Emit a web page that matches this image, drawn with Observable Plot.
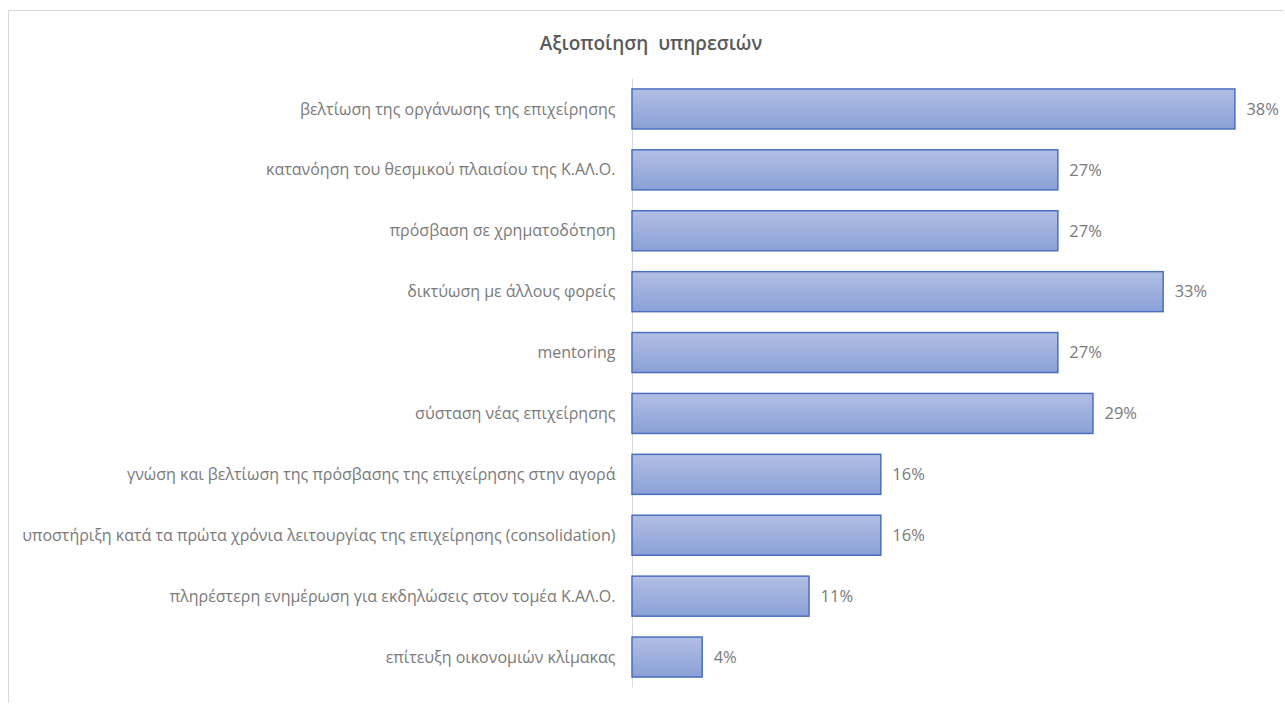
<!DOCTYPE html>
<html>
<head>
<meta charset="utf-8">
<script src="https://cdn.jsdelivr.net/npm/d3@7"></script>
<script src="https://cdn.jsdelivr.net/npm/@observablehq/plot@0.6"></script>
<style>
  body { margin: 0; background: #fff; font-family: "Open Sans", "Noto Sans", sans-serif; }
  #frame { position: absolute; left: 8px; top: 10px; width: 1276px; height: 693px; border: 1px solid #d9d9d9; border-right: none; border-bottom: none; box-sizing: border-box; }
  #title { position: absolute; left: 0; width: 1302px; top: 30px; text-align: center; font-size: 19px; color: #595959; font-weight: 600; }
  #chart { position: absolute; left: 0; top: 0; }
</style>
</head>
<body>
<div id="frame"></div>
<div id="title">Αξιοποίηση&nbsp; υπηρεσιών</div>
<div id="chart"></div>
<script>
const categories = [
  "βελτίωση της οργάνωσης της επιχείρησης",
  "κατανόηση του θεσμικού πλαισίου της Κ.ΑΛ.Ο.",
  "πρόσβαση σε χρηματοδότηση",
  "δικτύωση με άλλους φορείς",
  "mentoring",
  "σύσταση νέας επιχείρησης",
  "γνώση και βελτίωση της πρόσβασης της επιχείρησης στην αγορά",
  "υποστήριξη κατά τα πρώτα χρόνια λειτουργίας της επιχείρησης (consolidation)",
  "πληρέστερη ενημέρωση για εκδηλώσεις στον τομέα Κ.ΑΛ.Ο.",
  "επίτευξη οικονομιών κλίμακας"
];
const values = [37.8, 26.7, 26.7, 33.3, 26.7, 28.9, 15.6, 15.6, 11.1, 4.4];
const labels = ["38%", "27%", "27%", "33%", "27%", "29%", "16%", "16%", "11%", "4%"];

const data = categories.map((c, i) => ({ category: c, value: values[i], label: labels[i] }));

const chart = Plot.plot({
  width: 1285,
  height: 704,
  marginLeft: 632,
  marginRight: 15,
  marginTop: 78.6,
  marginBottom: 16.6,
  style: { fontFamily: "'Open Sans', 'Noto Sans', sans-serif", fontSize: "16px", color: "#7a7a7a", background: "transparent" },
  x: { domain: [0, 40], axis: null },
  y: { domain: categories, paddingInner: 0.343, paddingOuter: 0.17, round: false, label: null, tickSize: 0, tickPadding: 17 },
  marks: [
    Plot.ruleX([0], { stroke: "#d9d9d9", strokeWidth: 1 }),
    Plot.barX(data, { x: "value", y: "category", fill: "url(#barGrad)", stroke: "#4a6fc0", strokeWidth: 1.5 }),
    Plot.text(data, { x: "value", y: "category", text: "label", textAnchor: "start", dx: 11, fill: "#7a7a7a", fontSize: 16.5 })
  ]
});

const defs = d3.select(chart).insert("defs", ":first-child");
const g = defs.append("linearGradient").attr("id", "barGrad").attr("x1", 0).attr("y1", 0).attr("x2", 0).attr("y2", 1);
g.append("stop").attr("offset", "0%").attr("stop-color", "#b2bfe4");
g.append("stop").attr("offset", "100%").attr("stop-color", "#8aa0d7");

document.getElementById("chart").appendChild(chart);
</script>
</body>
</html>
